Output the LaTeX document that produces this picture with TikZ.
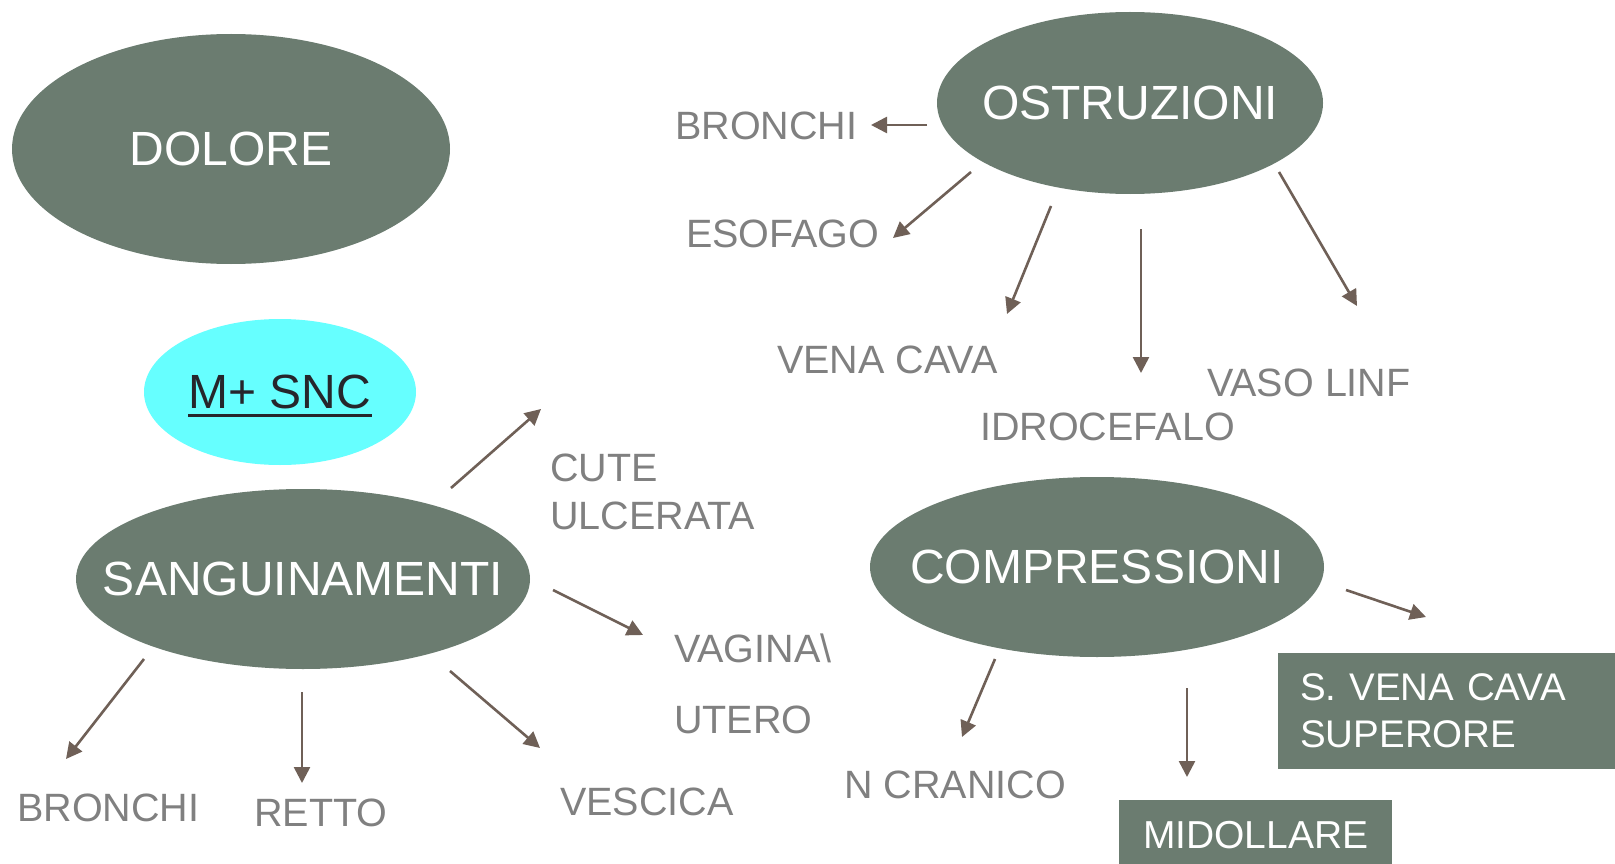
\documentclass[tikz,border=0pt]{standalone}
\usepackage{fontspec}
\setmainfont{Liberation Sans}
\usetikzlibrary{shapes.geometric,arrows.meta}
\definecolor{ovalc}{HTML}{6B7C70}
\definecolor{cyanc}{HTML}{66FFFF}
\definecolor{labc}{HTML}{808080}
\definecolor{arrc}{HTML}{6F6057}
\definecolor{darkc}{HTML}{26262C}
\begin{document}
\begin{tikzpicture}[x=1pt,y=-1pt,
  ovalshape/.style={ellipse, fill=ovalc, draw=none, inner sep=0pt},
  ovaltext/.style={inner sep=0pt, text=white, font=\fontsize{48}{56}\selectfont},
  lab/.style={anchor=base west, inner sep=0pt, text=labc, font=\fontsize{39.5}{47}\selectfont},
  boxnode/.style={fill=ovalc, text=white, anchor=north west, font=\fontsize{38.5}{47}\selectfont},
  arr/.style={draw=arrc, line width=2.6pt, -{Triangle[length=16pt,width=16pt]}}]
\useasboundingbox (0,0) rectangle (1615,864);
\fill[white] (0,0) rectangle (1615,864);

% ellipses
\node[ovalshape, minimum width=438pt, minimum height=230pt] (dol) at (231,149) {};
\node[ovaltext] (dolt) at (dol.center) {DOLORE};
\node[ovalshape, minimum width=386pt, minimum height=182pt] (ost) at (1130,103) {};
\node[ovaltext] (ostt) at (ost.center) {OSTRUZIONI};
\node[ovalshape, fill=cyanc, minimum width=272pt, minimum height=146pt] (snc) at (280,392) {};
\node[ovaltext, text=darkc] (snct) at (snc.center) {M+ SNC};
\draw[darkc, line width=3pt] ([yshift=-7pt]snct.base west) -- ([yshift=-7pt]snct.base east);
\node[ovalshape, minimum width=454pt, minimum height=180pt] (sang) at (303,579) {};
\node[ovaltext] (sangt) at (sang.center) {SANGUINAMENTI};
\node[ovalshape, minimum width=454pt, minimum height=180pt] (comp) at (1097,567) {};
\node[ovaltext] (compt) at (comp.center) {COMPRESSIONI};

% boxes
\node[boxnode, minimum width=337pt, minimum height=116pt, text width=293pt, inner xsep=22pt, inner ysep=0pt, align=left] (svc) at (1278,653) {S. VENA CAVA\\SUPERORE};
\node[boxnode, minimum width=273pt, minimum height=70pt, inner sep=0pt, font=\fontsize{39}{47}\selectfont] (mid) at (1119,800) {MIDOLLARE};

% labels
\node[lab] (bro1) at (675,140) {BRONCHI};
\node[lab] (eso) at (686,247) {ESOFAGO};
\node[lab] (vena) at (777,373) {VENA CAVA};
\node[lab] (idro) at (980,440) {IDROCEFALO};
\node[lab] (vaso) at (1207,396) {VASO LINF};
\node[lab] (cute) at (550,481) {CUTE};
\node[lab] (ulc) at (550,529) {ULCERATA};
\node[lab] (vag) at (674,662) {VAGINA\textbackslash};
\node[lab] (ute) at (674,733) {UTERO};
\node[lab] (vesc) at (560,815) {VESCICA};
\node[lab] (bro2) at (17,821) {BRONCHI};
\node[lab] (ret) at (254,826) {RETTO};
\node[lab] (ncr) at (844,798) {N CRANICO};

% arrow end points
\coordinate (a1s) at (927,125);  \coordinate (a1e) at (871,125);
\coordinate (a2s) at (971,172);  \coordinate (a2e) at (893,238);
\coordinate (a3s) at (1051,206); \coordinate (a3e) at (1007,314);
\coordinate (a4s) at (1141,229); \coordinate (a4e) at (1141,373);
\coordinate (a5s) at (1279,172); \coordinate (a5e) at (1357,306);
\coordinate (b1s) at (451,488);  \coordinate (b1e) at (541,409);
\coordinate (b2s) at (553,590);  \coordinate (b2e) at (643,635);
\coordinate (b3s) at (450,671);  \coordinate (b3e) at (540,748);
\coordinate (b4s) at (302,692);  \coordinate (b4e) at (302,783);
\coordinate (b5s) at (144,659);  \coordinate (b5e) at (66,759);
\coordinate (c1s) at (995,659);  \coordinate (c1e) at (962,737);
\coordinate (c2s) at (1187,688); \coordinate (c2e) at (1187,777);
\coordinate (c3s) at (1346,590); \coordinate (c3e) at (1426,617);

\draw[arr] (a1s) -- (a1e);
\draw[arr] (a2s) -- (a2e);
\draw[arr] (a3s) -- (a3e);
\draw[arr] (a4s) -- (a4e);
\draw[arr] (a5s) -- (a5e);
\draw[arr] (b1s) -- (b1e);
\draw[arr] (b2s) -- (b2e);
\draw[arr] (b3s) -- (b3e);
\draw[arr] (b4s) -- (b4e);
\draw[arr] (b5s) -- (b5e);
\draw[arr] (c1s) -- (c1e);
\draw[arr] (c2s) -- (c2e);
\draw[arr] (c3s) -- (c3e);
\end{tikzpicture}
\end{document}
